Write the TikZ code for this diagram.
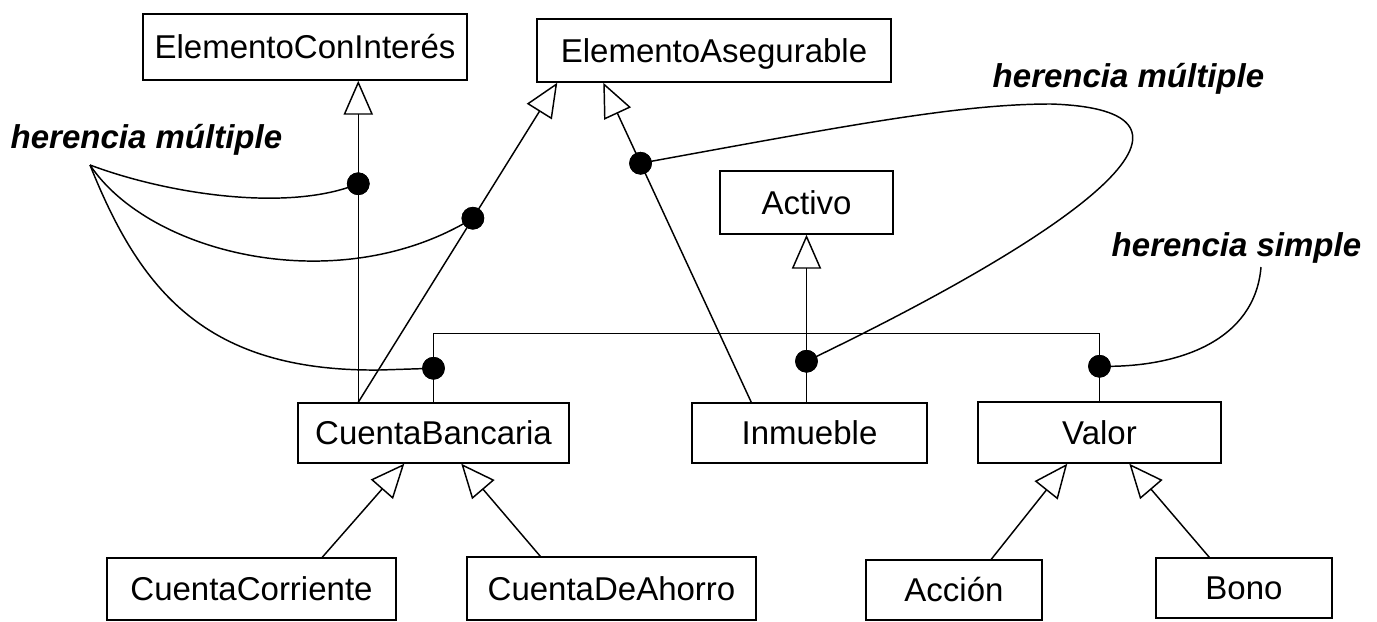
\documentclass[tikz,border=0pt]{standalone}
\usepackage{fontspec}
\setmainfont{Liberation Sans}
\usetikzlibrary{arrows.meta,calc}
\begin{document}
\begin{tikzpicture}[x=0.75pt,y=-0.75pt,line width=1.1pt,
  cls/.style={draw, rectangle, inner sep=0pt, font=\fontsize{24.75}{29}\selectfont, text height=17.7pt, text depth=0pt},
  note/.style={inner sep=0pt, font=\fontsize{24.75}{29}\selectfont\bfseries\itshape, anchor=base west},
  gen/.style={-{Triangle[open,length=25.5pt,width=22pt]}},
  dot/.style={circle, fill=black, draw=none, inner sep=0pt, minimum size=17pt},
]
\useasboundingbox (0,0) rectangle (1377,621);

% classes
\node[cls, minimum width=243pt, minimum height=49.5pt] (eci) at (305,47) {ElementoConInterés};
\node[cls, minimum width=265.5pt, minimum height=47.25pt] (ea) at (714,50.5) {ElementoAsegurable};
\node[cls, minimum width=129.75pt, minimum height=47.25pt] (act) at (806.5,202.5) {Activo};
\node[cls, minimum width=203.25pt, minimum height=45pt] (cb) at (433.5,433) {CuentaBancaria};
\node[cls, minimum width=176.25pt, minimum height=45pt] (inm) at (809.5,433) {Inmueble};
\node[cls, minimum width=182.25pt, minimum height=45.75pt] (val) at (1099.5,432.5) {Valor};
\node[cls, minimum width=216.75pt, minimum height=46.5pt] (cc) at (251.5,589) {CuentaCorriente};
\node[cls, minimum width=216.75pt, minimum height=47.25pt] (cda) at (611.5,588.5) {CuentaDeAhorro};
\node[cls, minimum width=132pt, minimum height=45pt] (acc) at (954,590) {Acción};
\node[cls, minimum width=132pt, minimum height=45pt] (bono) at (1244,588) {Bono};

% labels
\node[note] (l1) at (10,148) {herencia múltiple};
\node[note] (l2) at (992,87) {herencia múltiple};
\node[note] (l3) at (1111,256) {herencia simple};

% connection points
\coordinate (aS) at ($(cb.north west)+(61,0)$);
\coordinate (bE) at ($(ea.south west)+(21,0)$);
\coordinate (cS) at ($(inm.north west)+(60,0)$);
\coordinate (cE) at ($(ea.south west)+(67,0)$);
\coordinate (p0) at ($(l1.base west)+(80,17)$);
\coordinate (p3) at ($(l3.base west)+(150,11)$);

% generalizations (multiple inheritance)
\draw[gen] (aS) -- (aS |- eci.south);
\draw[gen] (aS) -- (bE);
\draw[gen] (cS) -- (cE);
\draw[gen] (act.south |- inm.north) -- (act.south);
% single inheritance bar
\draw (cb.north) -- ($(cb.north)+(0,-69)$) -| (val.north);
% lower generalizations
\draw[gen] ($(cc.north west)+(216,0)$) -- ($(cb.south west)+(107,0)$);
\draw[gen] ($(cda.north west)+(74,0)$) -- ($(cb.south west)+(164,0)$);
\draw[gen] ($(acc.north west)+(126,0)$) -- ($(val.south west)+(90,0)$);
\draw[gen] ($(bono.north west)+(54,0)$) -- ($(val.south west)+(152,0)$);

% dots
\node[dot] (d1) at ($(aS |- eci.south)+(0,103)$) {};
\node[dot] (d2) at ($(aS)!0.576!(bE)$) {};
\node[dot] (d3) at ($(cS)!0.748!(cE)$) {};
\node[dot] (d4) at ($(cb.north)+(0,-34)$) {};
\node[dot] (d5) at ($(act.south |- inm.north)+(0,-41)$) {};
\node[dot] (d6) at ($(val.north)+(0,-35)$) {};

% annotation curves
\draw (p0) .. controls (170,195) and (290,212) .. (d1.center);
\draw (p0) .. controls (150,255) and (340,300) .. (d2.center);
\draw (p0) .. controls (140,290) and (205,372) .. (380,370) -- (d4.center);
\draw (d3.center) .. controls (850,125) and (960,104) .. (1051,104)
      .. controls (1230,110) and (1100,220) .. (d5.center);
\draw (p3) .. controls (1255,340) and (1180,368) .. (d6.center);

% redraw dots on top
\foreach \d in {d1,d2,d3,d4,d5,d6} \fill (\d) circle[radius=8.5pt];
\end{tikzpicture}
\end{document}
